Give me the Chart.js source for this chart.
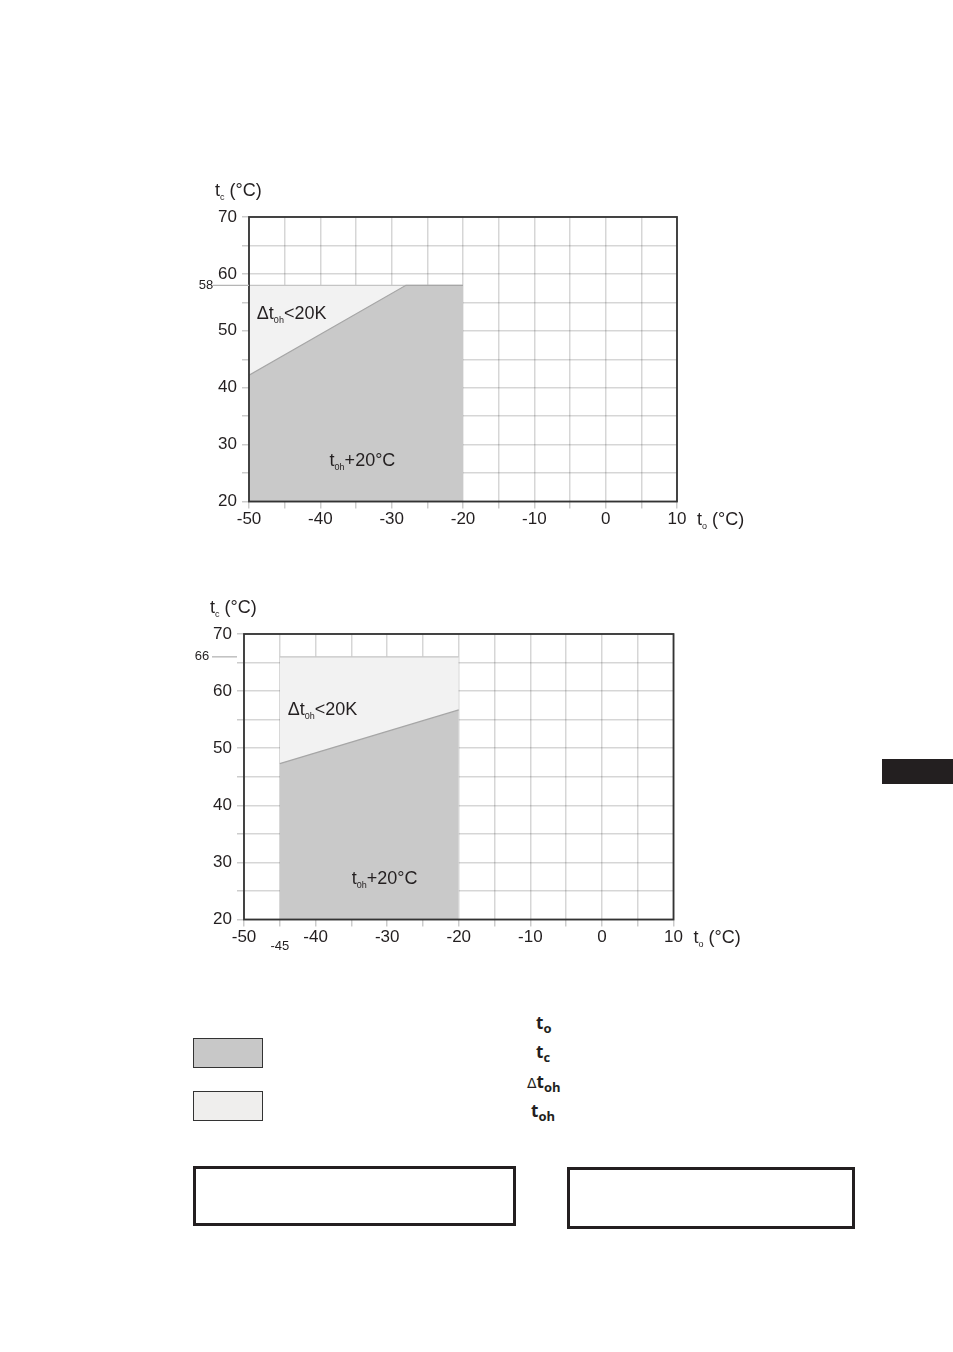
<!DOCTYPE html>
<html>
<head>
<meta charset="utf-8">
<script src="https://cdn.jsdelivr.net/npm/chart.js@4.4.1/dist/chart.umd.min.js"></script>
<style>
  html, body { margin: 0; padding: 0; background: #fff; }
  body { width: 953px; height: 1352px; position: relative; overflow: hidden; }
  .abs { position: absolute; }
  canvas { display: block; }
  .legbox { position: absolute; box-sizing: border-box; border: 1px solid #333; }
  .frame { position: absolute; box-sizing: border-box; border: 3px solid #231f20; }
  .sym { position: absolute; font-family: "Open Sans", "DejaVu Sans", sans-serif; font-weight: 700; font-size: 17px; color: #231f20; line-height: 1; white-space: nowrap; }
  .sym sub { font-size: 13px; vertical-align: -4px; line-height: 1; }
  .sym .d { font-weight: 400; font-family: "DejaVu Sans", sans-serif; font-size: 14px; }
</style>
</head>
<body>
<div class="abs" style="left:150px;top:170px;width:620px;height:370px;"><canvas id="c1" width="620" height="370"></canvas></div>
<div class="abs" style="left:150px;top:590px;width:620px;height:380px;"><canvas id="c2" width="620" height="380"></canvas></div>

<div class="abs" style="left:882px;top:759px;width:71px;height:25px;background:#231f20;"></div>

<div class="legbox" style="left:193px;top:1038px;width:70px;height:30px;background:#c8c8c8;"></div>
<div class="legbox" style="left:193px;top:1091px;width:70px;height:30px;background:#efeeed;"></div>

<div class="sym" style="left:536px;top:1014px;">t<sub>o</sub></div>
<div class="sym" style="left:536px;top:1043px;">t<sub>c</sub></div>
<div class="sym" style="left:527px;top:1073px;"><span class="d">&#916;</span>t<sub>oh</sub></div>
<div class="sym" style="left:531px;top:1102px;">t<sub>oh</sub></div>

<div class="frame" style="left:193px;top:1166px;width:323px;height:60px;"></div>
<div class="frame" style="left:567px;top:1167px;width:288px;height:62px;"></div>

<script>
// ---------- data ----------
const xMin = -50, xMax = 10, yMin = 20, yMax = 70;
const xTickLabels = ['-50', '-40', '-30', '-20', '-10', '0', '10'];
const yTickLabels = ['20', '30', '40', '50', '60', '70'];

// Chart 1 envelope
const c1DarkX = [-50, -28, -20];
const c1DarkY = [42.2, 58, 58];
const c1LightX = [-50, -20];
const c1LightY = [58, 58];
const c1Mark = 58;

// Chart 2 envelope
const c2DarkX = [-45, -20];
const c2DarkY = [47.3, 56.7];
const c2LightX = [-45, -20];
const c2LightY = [66, 66];
const c2Mark = 66;
const c2XMark = -45;

// ---------- helpers ----------
const FONT = '"Liberation Sans", Arial, sans-serif';
const TXT = '#231f20';

function pts(xs, ys) { return xs.map((x, i) => ({ x: x, y: ys[i] })); }

function drawParts(ctx, parts, x, y) {
  ctx.textAlign = 'left';
  ctx.textBaseline = 'alphabetic';
  let cx = x;
  for (const p of parts) {
    ctx.font = p[1] + 'px ' + FONT;
    ctx.fillText(p[0], cx, y + p[2]);
    cx += ctx.measureText(p[0]).width;
  }
}

function makeChart(id, dark, light, cfg) {
  const W = cfg.W, H = cfg.H;
  const plugin = {
    id: 'extras' + id,
    afterDraw(chart) {
      const ctx = chart.ctx, a = chart.chartArea;
      const xs = chart.scales.x, ys = chart.scales.y;
      ctx.save();
      ctx.strokeStyle = '#333';
      ctx.lineWidth = 1.8;
      ctx.strokeRect(a.left, a.top, a.right - a.left, a.bottom - a.top);
      ctx.fillStyle = TXT;
      drawParts(ctx, [['t', 18, 0], ['c', 9, 4], [' (°C)', 18, 0]], a.left - 34, a.top - 21);
      drawParts(ctx, [['t', 18, 0], ['o', 9, 4], [' (°C)', 18, 0]], a.right + 20, a.bottom + 23);
      const l1 = cfg.lab1, l2 = cfg.lab2;
      drawParts(ctx, [['Δt', 18, 0], ['0h', 9, 4], ['<20K', 18, 0]], xs.getPixelForValue(l1[0]), ys.getPixelForValue(l1[1]) + 7);
      drawParts(ctx, [['t', 18, 0], ['0h', 9, 4], ['+20°C', 18, 0]], xs.getPixelForValue(l2[0]), ys.getPixelForValue(l2[1]) + 7);
      const my = ys.getPixelForValue(cfg.mark);
      ctx.strokeStyle = '#b5b5b5';
      ctx.lineWidth = 1.3;
      ctx.beginPath();
      ctx.moveTo(a.left - cfg.markLine[0], my);
      ctx.lineTo(a.left - cfg.markLine[1], my);
      ctx.stroke();
      ctx.font = '13px ' + FONT;
      ctx.textAlign = 'center';
      ctx.textBaseline = 'middle';
      ctx.fillText(String(cfg.mark), a.left - cfg.markLabelDx, my);
      if (cfg.xMark !== undefined) {
        ctx.fillText(String(cfg.xMark), xs.getPixelForValue(cfg.xMark), a.bottom + 27);
      }
      ctx.restore();
    }
  };

  const gridOpts = {
    color: 'rgba(0,0,0,0.16)',
    lineWidth: 1.5,
    drawTicks: true,
    tickLength: 7,
    tickColor: 'rgba(0,0,0,0.2)'
  };

  return new Chart(document.getElementById(id), {
    type: 'line',
    data: {
      datasets: [
        {
          data: pts(dark[0], dark[1]),
          borderColor: '#a6a6a6',
          borderWidth: 1.2,
          backgroundColor: '#c9c9c9',
          fill: { value: yMin },
          pointRadius: 0,
          tension: 0,
          order: 0
        },
        {
          data: pts(light[0], light[1]),
          borderColor: '#c4c4c4',
          borderWidth: 1.2,
          backgroundColor: '#f2f2f2',
          fill: { value: yMin },
          pointRadius: 0,
          tension: 0,
          order: 1
        }
      ]
    },
    options: {
      responsive: false,
      animation: false,
      events: [],
      layout: { padding: { left: 0, top: cfg.top, right: W - cfg.right, bottom: 0 } },
      plugins: { legend: { display: false }, tooltip: { enabled: false } },
      scales: {
        x: {
          type: 'linear', min: xMin, max: xMax, z: 1,
          grid: gridOpts,
          border: { display: false },
          ticks: {
            stepSize: 5, padding: 1, color: TXT, maxRotation: 0, autoSkip: false,
            font: { family: FONT, size: 17 },
            callback: (v) => { const s = String(v); return xTickLabels.includes(s) ? s : ''; }
          },
          afterFit: (s) => { s.height = H - cfg.bottom; }
        },
        y: {
          type: 'linear', min: yMin, max: yMax, z: 1,
          grid: gridOpts,
          border: { display: false },
          ticks: {
            stepSize: 5, padding: 5, color: TXT, autoSkip: false,
            font: { family: FONT, size: 17 },
            callback: (v) => { const s = String(v); return yTickLabels.includes(s) ? s : ''; }
          },
          afterFit: (s) => { s.width = cfg.left; }
        }
      }
    },
    plugins: [plugin]
  });
}

makeChart('c1', [c1DarkX, c1DarkY], [c1LightX, c1LightY], {
  W: 620, H: 370, left: 99, right: 527, top: 47, bottom: 331.5,
  lab1: [-48.9, 53.3], lab2: [-38.7, 27.5],
  mark: c1Mark, markLine: [36, 0], markLabelDx: 43
});

makeChart('c2', [c2DarkX, c2DarkY], [c2LightX, c2LightY], {
  W: 620, H: 380, left: 94, right: 523.5, top: 44, bottom: 329.5,
  lab1: [-43.9, 57.1], lab2: [-34.95, 27.5],
  mark: c2Mark, markLine: [32, 7], markLabelDx: 42, xMark: c2XMark
});
</script>
</body>
</html>
